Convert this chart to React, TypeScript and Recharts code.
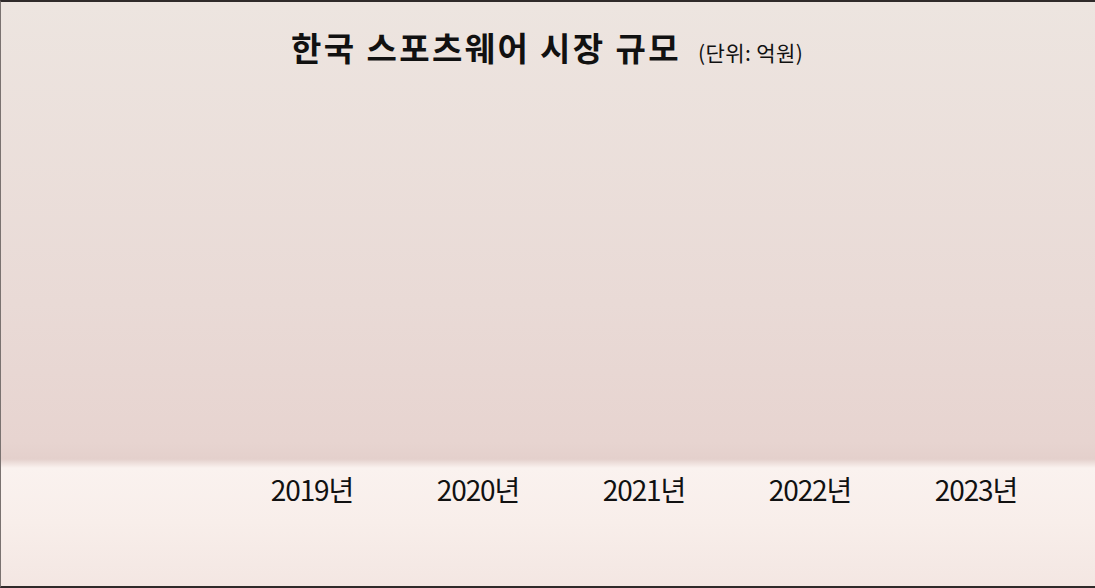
import React from "react";
import { BarChart, Bar, XAxis, YAxis } from "recharts";

const categories = ["2019년", "2020년", "2021년", "2022년", "2023년"];
// Bars are at zero height in the reference frame (nothing drawn above the floor)
const marketSize = [0, 0, 0, 0, 0];
const titleText = "한국 스포츠웨어 시장 규모";
const unitText = "(단위: 억원)";

const data = categories.map((c, i) => ({ year: c, value: marketSize[i] }));

const FONT = '"Noto Sans CJK KR", "Noto Sans", sans-serif';

export default function App() {
  return (
    <div
      style={{
        position: "fixed",
        left: 0,
        top: 0,
        width: 1095,
        height: 588,
        boxSizing: "border-box",
        borderTop: "2px solid #2f2a2a",
        borderLeft: "1px solid #7a7270",
        borderBottom: "2px solid #2f2a2a",
        background:
          "linear-gradient(to bottom, #ede5e0 0px, #e9dad6 300px, #e7d4d0 440px, #e4d0cc 457px, #faf2ef 466px, #f8eeea 520px, #f3e6e2 588px)",
        overflow: "hidden",
        fontFamily: FONT,
      }}
    >
      <div
        style={{
          position: "absolute",
          left: 290,
          top: 22,
          fontSize: 33,
          fontWeight: 700,
          letterSpacing: 2.4,
          color: "#111",
          whiteSpace: "nowrap",
          lineHeight: "46px",
        }}
      >
        {titleText}
      </div>
      <div
        style={{
          position: "absolute",
          left: 697,
          top: 36,
          fontSize: 21,
          fontWeight: 400,
          letterSpacing: 0.4,
          color: "#111",
          whiteSpace: "nowrap",
          lineHeight: "28px",
        }}
      >
        {unitText}
      </div>
      <div style={{ position: "absolute", left: -1, top: -2 }}>
        <BarChart
          width={1095}
          height={588}
          data={data}
          margin={{ top: 100, right: 36, bottom: 0, left: 229 }}
        >
          <XAxis
            dataKey="year"
            height={126}
            axisLine={false}
            tickLine={false}
            tickSize={0}
            tickMargin={19}
            interval={0}
            tick={{ fill: "#111", fontSize: 28, fontFamily: FONT, letterSpacing: -1.1 }}
          />
          <YAxis hide domain={[0, 1]} />
          <Bar dataKey="value" fill="#c98f88" barSize={90} isAnimationActive={false} />
        </BarChart>
      </div>
    </div>
  );
}
